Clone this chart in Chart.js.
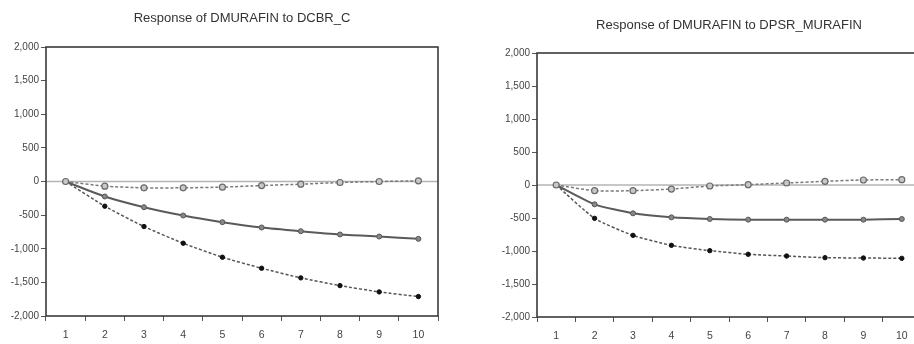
<!DOCTYPE html>
<html>
<head>
<meta charset="utf-8">
<script src="https://cdn.jsdelivr.net/npm/chart.js@4/dist/chart.umd.min.js"></script>
<style>
	html, body { margin: 0; padding: 0; background: #fff; overflow: hidden; }
	.box { position: absolute; top: 0; height: 344px; }
	#left { left: 0; width: 460px; }
	#right { left: 460px; width: 470px; }
</style>
</head>
<body>
<div class="box" id="left"><canvas id="chart-left" width="460" height="344"></canvas></div>
<div class="box" id="right"><canvas id="chart-right" width="470" height="344"></canvas></div>
<script>
'use strict';

var periods = ['1', '2', '3', '4', '5', '6', '7', '8', '9', '10'];
var yTicks = [-2000, -1500, -1000, -500, 0, 500, 1000, 1500, 2000];

// Response of DMURAFIN to DCBR_C
var dcbrResp = [0, -223, -382, -506, -605, -684, -739, -788, -818, -853];
var dcbrUpper = [0, -69, -94, -94, -84, -60, -40, -15, 0, 10];
var dcbrLower = [0, -367, -670, -918, -1126, -1290, -1433, -1548, -1642, -1711];

// Response of DMURAFIN to DPSR_MURAFIN
var dpsrResp = [0, -293, -429, -490, -515, -525, -525, -525, -525, -515];
var dpsrUpper = [0, -86, -86, -61, -15, 5, 30, 56, 76, 81];
var dpsrLower = [0, -505, -763, -914, -995, -1050, -1076, -1101, -1106, -1111];

var FONT = 'Liberation Sans, Arial, sans-serif';

// frame, zero line and title
var framePlugin = {
	id: 'frame',
	beforeDatasetsDraw: function(chart) {
		var ctx = chart.ctx;
		var a = chart.chartArea;
		var y0 = chart.scales.y.getPixelForValue(0);
		ctx.save();
		ctx.strokeStyle = '#b4b4b4';
		ctx.lineWidth = 1.5;
		ctx.beginPath();
		ctx.moveTo(a.left, y0);
		ctx.lineTo(a.right, y0);
		ctx.stroke();
		ctx.restore();
	},
	afterDraw: function(chart) {
		var ctx = chart.ctx;
		var a = chart.chartArea;
		var opts = chart.options.plugins.frame;
		ctx.save();
		ctx.strokeStyle = '#3a3a3a';
		ctx.lineWidth = 1.6;
		ctx.strokeRect(a.left, a.top, a.right - a.left, a.bottom - a.top);
		ctx.fillStyle = '#333';
		ctx.font = '13px ' + FONT;
		ctx.textAlign = 'center';
		ctx.textBaseline = 'middle';
		ctx.fillText(opts.title, (a.left + a.right) / 2, opts.titleY);
		ctx.restore();
	}
};

function makeChart(id, title, resp, upper, lower, geo) {
	return new Chart(id, {
		type: 'line',
		data: {
			labels: periods,
			datasets: [{
				data: upper,
				borderColor: '#7a7a7a',
				borderWidth: 1.5,
				borderDash: [3, 2],
				pointRadius: 3,
				pointBorderWidth: 1.2,
				pointBorderColor: '#6a6a6a',
				pointBackgroundColor: '#c8c8c8',
				tension: 0.2
			}, {
				data: resp,
				borderColor: '#5a5a5a',
				borderWidth: 2,
				pointRadius: 2.5,
				pointBorderWidth: 1,
				pointBorderColor: '#555',
				pointBackgroundColor: '#888',
				tension: 0.2
			}, {
				data: lower,
				borderColor: '#555',
				borderWidth: 1.5,
				borderDash: [3, 2],
				pointRadius: 2.2,
				pointBorderWidth: 1,
				pointBorderColor: '#111',
				pointBackgroundColor: '#111',
				tension: 0.2
			}]
		},
		options: {
			responsive: false,
			animation: false,
			layout: { padding: { top: geo.top, left: 0, right: geo.right, bottom: 0 } },
			plugins: {
				legend: { display: false },
				tooltip: { enabled: false },
				title: { display: false },
				frame: { title: title, titleY: geo.titleY }
			},
			scales: {
				x: {
					offset: true,
					grid: { offset: true, drawOnChartArea: false, tickLength: 5, color: '#555', lineWidth: 1 },
					border: { display: false },
					ticks: { color: '#444', font: { family: FONT, size: 10.5 }, padding: 8, maxRotation: 0 },
					afterFit: function(scale) { scale.height = geo.xh; }
				},
				y: {
					min: -2000,
					max: 2000,
					afterBuildTicks: function(scale) {
						scale.ticks = yTicks.map(function(v) { return { value: v }; });
					},
					grid: { drawOnChartArea: false, tickLength: 5, color: '#555', lineWidth: 1 },
					border: { display: false },
					ticks: {
						color: '#444',
						font: { family: FONT, size: 10 },
						padding: 2,
						callback: function(v) { return v.toLocaleString('en-US'); }
					},
					afterFit: function(scale) { scale.width = geo.yw; }
				}
			}
		},
		plugins: [framePlugin]
	});
}

makeChart('chart-left', 'Response of DMURAFIN to DCBR_C', dcbrResp, dcbrUpper, dcbrLower,
	{ top: 47, right: 22, xh: 28, yw: 46, titleY: 18 });
makeChart('chart-right', 'Response of DMURAFIN to DPSR_MURAFIN', dpsrResp, dpsrUpper, dpsrLower,
	{ top: 53, right: 9, xh: 27, yw: 77, titleY: 25 });
</script>
</body>
</html>
